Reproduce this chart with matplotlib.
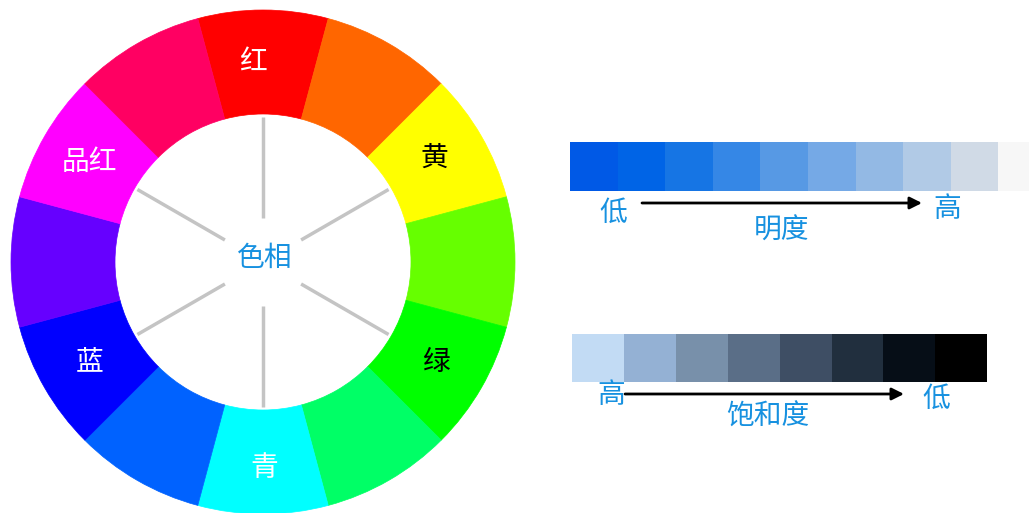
import matplotlib
matplotlib.use("Agg")
import matplotlib.pyplot as plt
from matplotlib.patches import Wedge, Rectangle
import numpy as np

plt.rcParams['font.family'] = ['Noto Sans CJK SC', 'DejaVu Sans']

# hue wheel, clockwise from top
hue_colors = ['#FF0000', '#FF6600', '#FFFF00', '#66FF00', '#00FF00', '#00FF66',
              '#00FFFF', '#0062FF', '#0000FF', '#6600FF', '#FF00FF', '#FF0062']
hue_labels = {0: ('红', 'white'), 2: ('黄', 'black'), 4: ('绿', 'black'),
              6: ('青', 'white'), 8: ('蓝', 'white'), 10: ('品红', 'white')}

# brightness strip (low -> high)
bright_colors = ['#0059E6', '#0064E6', '#1675E4', '#3587E6', '#5799E4',
                 '#75A9E6', '#93B9E4', '#B1CAE6', '#D0DAE6', '#F7F7F7']
# saturation strip (high -> low)
sat_colors = ['#C2DBF4', '#94B1D4', '#7890AA', '#5A6E87',
              '#3E4E64', '#212F3E', '#060E17', '#000000']

text_blue = '#1791E0'
fs = 20

fig = plt.figure(figsize=(10.29, 5.13), dpi=100)
ax = fig.add_axes([0, 0, 1, 1])
ax.set_xlim(0, 1029)
ax.set_ylim(513, 0)
ax.set_aspect('equal')
ax.axis('off')

# --- colour wheel ---
cx, cy = 263, 262
r_out, r_in = 252, 148
n = len(hue_colors)
step = 360 / n
for i, c in enumerate(hue_colors):
    # y axis is inverted, so visual angle = -data angle
    vis_mid = 90 - i * step
    t1 = -(vis_mid + step / 2)
    t2 = -(vis_mid - step / 2)
    ax.add_patch(Wedge((cx, cy), r_out, t1, t2, width=r_out - r_in,
                       facecolor=c, edgecolor=c, lw=0.5))

# small hand nudges so labels sit where they do in the original
nudge = {0: (-10, 0), 6: (1, 6), 2: (-2, -4)}
for i, (txt, col) in hue_labels.items():
    a = np.deg2rad(90 - i * step)
    r_lab = 200
    dx, dy = nudge.get(i, (0, 0))
    ax.text(cx + r_lab * np.cos(a) + dx, cy - r_lab * np.sin(a) + dy, txt,
            color=col, fontsize=fs, ha='center', va='center')

# grey spokes
for k in range(6):
    a = np.deg2rad(90 - k * 60)
    ax.plot([cx + 44 * np.cos(a), cx + 145 * np.cos(a)],
            [cy - 44 * np.sin(a), cy - 145 * np.sin(a)],
            color='#C4C4C4', lw=2.5, solid_capstyle='butt')

ax.text(cx + 2, cy - 4, '色相', color=text_blue, fontsize=fs,
        ha='center', va='center')

# --- brightness strip ---
bx0, by0, bw, bh = 570, 142, 47.6, 49
for i, c in enumerate(bright_colors):
    ax.add_patch(Rectangle((bx0 + i * bw, by0), bw, bh, facecolor=c,
                           edgecolor='none'))
ax.annotate('', xy=(922, 203), xytext=(642, 203),
            arrowprops=dict(arrowstyle='-|>', color='black', lw=2,
                            mutation_scale=18, shrinkA=0, shrinkB=0))
ax.text(613, 213, '低', color=text_blue, fontsize=fs, ha='center', va='center')
ax.text(947, 209, '高', color=text_blue, fontsize=fs, ha='center', va='center')
ax.text(782, 231, '明度', color=text_blue, fontsize=fs, ha='center', va='center')

# --- saturation strip ---
sx0, sy0, sw, sh = 572, 334, 51.9, 48
for i, c in enumerate(sat_colors):
    ax.add_patch(Rectangle((sx0 + i * sw, sy0), sw, sh, facecolor=c,
                           edgecolor='none'))
ax.annotate('', xy=(904, 394), xytext=(625, 394),
            arrowprops=dict(arrowstyle='-|>', color='black', lw=2,
                            mutation_scale=18, shrinkA=0, shrinkB=0))
ax.text(611, 395, '高', color=text_blue, fontsize=fs, ha='center', va='center')
ax.text(936, 399, '低', color=text_blue, fontsize=fs, ha='center', va='center')
ax.text(768, 417, '饱和度', color=text_blue, fontsize=fs, ha='center', va='center')

fig.savefig('out.png', dpi=100)
